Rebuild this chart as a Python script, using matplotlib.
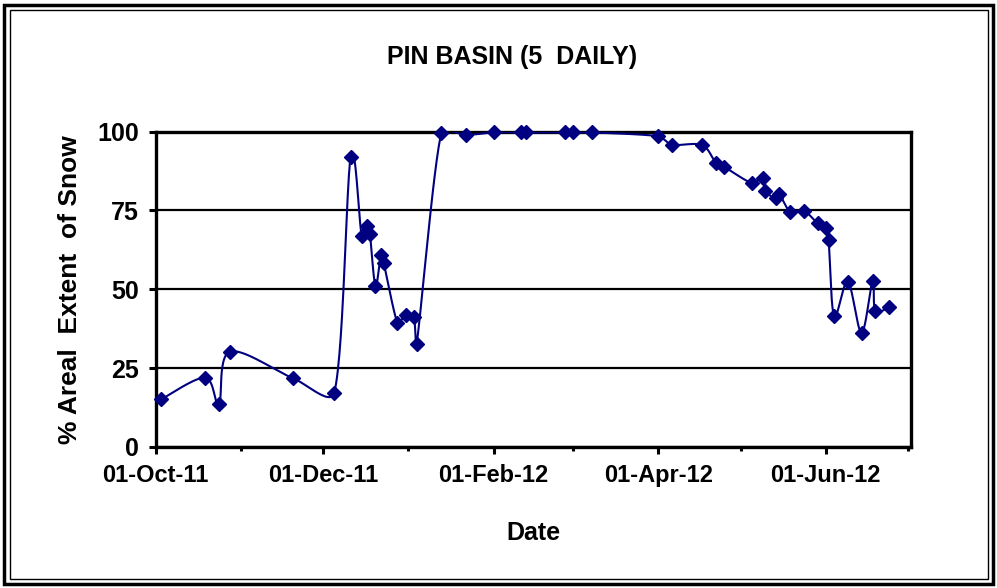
import numpy as np
import pandas as pd
import matplotlib
matplotlib.use("Agg")
import matplotlib.pyplot as plt
import matplotlib.dates as mdates
from matplotlib.patches import Rectangle

# ---------- data ----------
dates = [
    "2011-10-03", "2011-10-19", "2011-10-24", "2011-10-28", "2011-11-20",
    "2011-12-05", "2011-12-11", "2011-12-15", "2011-12-17", "2011-12-18",
    "2011-12-20", "2011-12-22", "2011-12-23", "2011-12-28", "2011-12-31",
    "2012-01-03", "2012-01-04", "2012-01-13", "2012-01-22", "2012-02-01",
    "2012-02-11", "2012-02-13", "2012-02-27", "2012-03-01", "2012-03-08",
    "2012-04-01", "2012-04-06", "2012-04-17", "2012-04-22", "2012-04-25",
    "2012-05-05", "2012-05-09", "2012-05-10", "2012-05-14", "2012-05-15",
    "2012-05-19", "2012-05-24", "2012-05-29", "2012-06-01", "2012-06-02",
    "2012-06-04", "2012-06-09", "2012-06-14", "2012-06-18", "2012-06-19",
    "2012-06-24",
]
snow_pct = [
    15.1, 22.0, 13.5, 30.2, 21.8,
    17.2, 92.0, 67.0, 70.0, 67.4,
    51.1, 60.9, 58.4, 39.4, 41.8,
    41.1, 32.6, 99.6, 98.9, 99.7,
    99.7, 99.7, 99.7, 99.7, 99.7,
    98.5, 95.8, 95.7, 90.0, 88.8,
    83.7, 85.4, 81.0, 78.8, 80.2,
    74.6, 74.9, 70.9, 69.5, 65.5,
    41.5, 52.4, 36.2, 52.6, 43.1,
    44.3,
]
xtick_labels = ["01-Oct-11", "01-Dec-11", "01-Feb-12", "01-Apr-12", "01-Jun-12"]
yticks = [0, 25, 50, 75, 100]

NAVY = "#000080"
W, H = 997, 588
FS = 17

plt.rcParams["font.family"] = ["Liberation Sans", "DejaVu Sans"]
plt.rcParams["font.weight"] = "bold"


def excel_smooth(x, y, sx=1.0, sy=1.0, limit=0.33, n=30):
    # bezier through the points, tangents like Catmull-Rom but kept short
    # (measured in screen units) so it does not overshoot much
    P = np.column_stack([np.asarray(x, float) * sx, np.asarray(y, float) * sy])
    out = []
    for i in range(len(P) - 1):
        i0, i3 = max(i - 1, 0), min(i + 2, len(P) - 1)
        seg = np.hypot(*(P[i + 1] - P[i]))
        t1 = (P[i + 1] - P[i0]) / 6
        t2 = (P[i3] - P[i]) / 6
        for t in (t1, t2):
            L = np.hypot(*t)
            if L > limit * seg and L > 0:
                t *= limit * seg / L
        c1, c2 = P[i] + t1, P[i + 1] - t2
        t = np.linspace(0, 1, n)[:, None]
        out.append((1 - t) ** 3 * P[i] + 3 * t * (1 - t) ** 2 * c1
                   + 3 * t ** 2 * (1 - t) * c2 + t ** 3 * P[i + 1])
    out = np.vstack(out)
    return out[:, 0] / sx, out[:, 1] / sy


d = pd.to_datetime(dates)
xn = mdates.date2num(d)

fig = plt.figure(figsize=(W / 100, H / 100), dpi=100)
ax = fig.add_axes([155.7 / W, 1 - 447 / H, (911 - 155.7) / W, (447 - 131.5) / H])

# px per day / px per percent, so the smoothing works in screen units
sx, sy = excel_smooth(xn, snow_pct, sx=2.75, sy=3.155)
ax.plot(sx, sy, color=NAVY, lw=1.5, zorder=3)
ax.plot(xn, snow_pct, ls="none", marker="D", ms=7, color=NAVY, zorder=4, clip_on=False)

ax.set_ylim(0, 100)
ax.set_xlim(mdates.date2num(pd.Timestamp("2011-10-01")),
            mdates.date2num(pd.Timestamp("2012-07-02")))
ax.set_yticks(yticks)
ax.set_yticklabels([str(v) for v in yticks], fontsize=18, fontweight="bold")
ax.set_xticks(mdates.date2num(pd.to_datetime(
    ["2011-10-01", "2011-12-01", "2012-02-01", "2012-04-01", "2012-06-01"])))
ax.set_xticklabels(xtick_labels, fontsize=FS, fontweight="bold")
ax.set_xticks(mdates.date2num(pd.to_datetime(
    ["2011-11-01", "2012-01-01", "2012-03-01", "2012-05-01", "2012-07-01"])), minor=True)
ax.tick_params(axis="both", which="major", direction="out", length=5, width=2.2, pad=7)
ax.tick_params(axis="x", which="minor", direction="out", length=3, width=2.2)
ax.grid(axis="y", color="black", lw=1.6)
for s in ax.spines.values():
    s.set_linewidth(2.4)
ax.set_axisbelow(True)

ax.set_ylabel("% Areal  Extent  of Snow", fontsize=19, fontweight="bold", labelpad=11)
ax.set_xlabel("Date", fontsize=18, fontweight="bold", labelpad=25)
fig.text(512 / W, 1 - 57 / H, "PIN BASIN (5  DAILY)", ha="center", va="center",
         fontsize=18, fontweight="bold")

# chart area double border
fig.patches.append(Rectangle((4 / W, 4 / H), (993 - 4) / W, (583 - 4) / H, fill=False,
                             lw=2.5, ec="black", transform=fig.transFigure))
fig.patches.append(Rectangle((9.5 / W, 9.5 / H), (988 - 9.5) / W, (578 - 9.5) / H, fill=False,
                             lw=1.0, ec="black", transform=fig.transFigure))

fig.savefig("out.png", dpi=100)
